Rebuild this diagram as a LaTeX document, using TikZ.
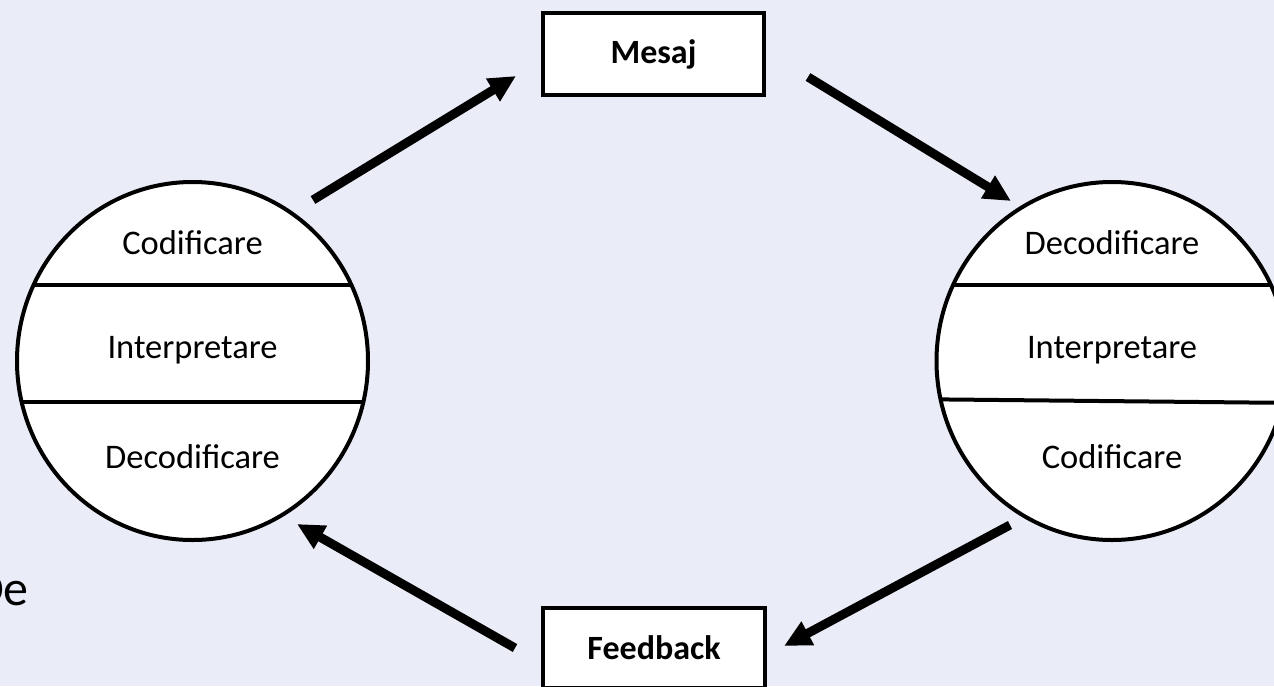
\documentclass[tikz,border=0pt]{standalone}
\usepackage{fontspec}
\setmainfont{Carlito}
\usetikzlibrary{arrows.meta,shapes.geometric}
\definecolor{bgc}{RGB}{234,237,247}
\tikzset{
  circ/.style={ellipse, draw=black, fill=white, line width=4pt, minimum width=351pt, minimum height=358pt, inner sep=0pt},
  box/.style={rectangle, draw=black, fill=white, line width=3.5pt, inner sep=0pt, font=\fontsize{34}{40}\selectfont\bfseries},
  lbl/.style={font=\fontsize{34.5}{40}\selectfont, inner sep=0pt},
  div/.style={line width=4pt},
  flow/.style={line width=9pt, -{Triangle[length=27pt,width=25pt]}}
}
\begin{document}
\begin{tikzpicture}[x=1pt,y=-1pt]
\fill[bgc] (0,0) rectangle (1274,686);
\useasboundingbox (0,0) rectangle (1274,686);
% left circle
\node[circ] (lc) at (192.5,361) {};
\begin{scope}
\clip (192.5,361) ellipse [x radius=175.5, y radius=179];
\draw[div] (0,285) -- (400,285);
\draw[div] (0,402) -- (400,402);
\end{scope}
\node[lbl] (l1) at (192.5,243) {Codificare};
\node[lbl] (l2) at (192.5,350) {Interpretare};
\node[lbl] (l3) at (192.5,457) {Decodificare};
% right circle
\node[circ] (rc) at (1112,361) {};
\begin{scope}
\clip (1112,361) ellipse [x radius=175.5, y radius=179];
\draw[div] (900,285) -- (1300,285);
\draw[div] (900,399) -- (1300,403);
\end{scope}
\node[lbl] (r1) at (1112,243) {Decodificare};
\node[lbl] (r2) at (1112,350) {Interpretare};
\node[lbl] (r3) at (1112,457) {Codificare};
% boxes
\node[box, minimum width=221pt, minimum height=82pt] (mesaj) at (653.5,54) {Mesaj};
\node[box, minimum width=222pt, minimum height=80pt] (feedback) at (654,648) {Feedback};
% partial text at left edge
\node[font=\fontsize{50}{56}\selectfont, anchor=base east, inner sep=0pt] (de) at (29,605) {De};
% connector end points
\coordinate (a1s) at (313,200);
\coordinate (a1e) at (516,76);
\coordinate (a2s) at (808,77);
\coordinate (a2e) at (1011,201);
\coordinate (a3s) at (1010,525);
\coordinate (a3e) at (784,646);
\coordinate (a4s) at (515,648);
\coordinate (a4e) at (297,524);
\draw[flow] (a1s) -- (a1e);
\draw[flow] (a2s) -- (a2e);
\draw[flow] (a3s) -- (a3e);
\draw[flow] (a4s) -- (a4e);
\end{tikzpicture}
\end{document}
